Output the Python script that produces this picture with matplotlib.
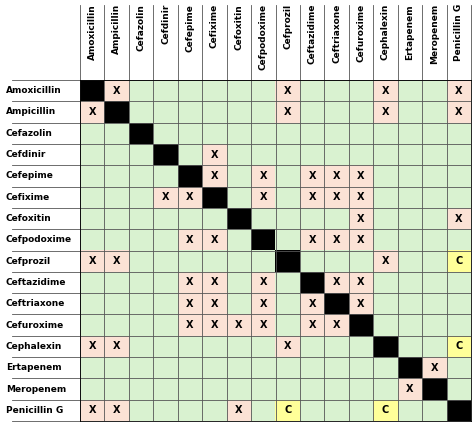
import matplotlib.pyplot as plt
import numpy as np
from matplotlib.colors import ListedColormap
from matplotlib.transforms import blended_transform_factory

drugs = ['Amoxicillin', 'Ampicillin', 'Cefazolin', 'Cefdinir', 'Cefepime', 'Cefixime',
         'Cefoxitin', 'Cefpodoxime', 'Cefprozil', 'Ceftazidime', 'Ceftriaxone',
         'Cefuroxime', 'Cephalexin', 'Ertapenem', 'Meropenem', 'Penicillin G']

# cross-reactivity marks per row: column name -> 'X' or 'C'
marks = {
    'Amoxicillin': {'Ampicillin': 'X', 'Cefprozil': 'X', 'Cephalexin': 'X', 'Penicillin G': 'X'},
    'Ampicillin': {'Amoxicillin': 'X', 'Cefprozil': 'X', 'Cephalexin': 'X', 'Penicillin G': 'X'},
    'Cefazolin': {},
    'Cefdinir': {'Cefixime': 'X'},
    'Cefepime': {'Cefixime': 'X', 'Cefpodoxime': 'X', 'Ceftazidime': 'X', 'Ceftriaxone': 'X', 'Cefuroxime': 'X'},
    'Cefixime': {'Cefdinir': 'X', 'Cefepime': 'X', 'Cefpodoxime': 'X', 'Ceftazidime': 'X', 'Ceftriaxone': 'X', 'Cefuroxime': 'X'},
    'Cefoxitin': {'Cefuroxime': 'X', 'Penicillin G': 'X'},
    'Cefpodoxime': {'Cefepime': 'X', 'Cefixime': 'X', 'Ceftazidime': 'X', 'Ceftriaxone': 'X', 'Cefuroxime': 'X'},
    'Cefprozil': {'Amoxicillin': 'X', 'Ampicillin': 'X', 'Cephalexin': 'X', 'Penicillin G': 'C'},
    'Ceftazidime': {'Cefepime': 'X', 'Cefixime': 'X', 'Cefpodoxime': 'X', 'Ceftriaxone': 'X', 'Cefuroxime': 'X'},
    'Ceftriaxone': {'Cefepime': 'X', 'Cefixime': 'X', 'Cefpodoxime': 'X', 'Ceftazidime': 'X', 'Cefuroxime': 'X'},
    'Cefuroxime': {'Cefepime': 'X', 'Cefixime': 'X', 'Cefoxitin': 'X', 'Cefpodoxime': 'X', 'Ceftazidime': 'X', 'Ceftriaxone': 'X'},
    'Cephalexin': {'Amoxicillin': 'X', 'Ampicillin': 'X', 'Cefprozil': 'X', 'Penicillin G': 'C'},
    'Ertapenem': {'Meropenem': 'X'},
    'Meropenem': {'Ertapenem': 'X'},
    'Penicillin G': {'Amoxicillin': 'X', 'Ampicillin': 'X', 'Cefoxitin': 'X', 'Cefprozil': 'C', 'Cephalexin': 'C'},
}

n = len(drugs)
grid = np.zeros((n, n))
for i, r in enumerate(drugs):
    for j, c in enumerate(drugs):
        if i == j:
            grid[i, j] = 3
        elif c in marks[r]:
            grid[i, j] = 1 if marks[r][c] == 'X' else 2

cmap = ListedColormap(['#d9f2d0', '#fbe2d5', '#ffff99', '#000000'])

fig = plt.figure(figsize=(4.74, 4.24), dpi=100)
ax = fig.add_axes([80/474, 3/424, 391/474, 341/424])
ax.imshow(grid, cmap=cmap, vmin=0, vmax=3, aspect='auto')

for i, r in enumerate(drugs):
    for j, c in enumerate(drugs):
        if c in marks[r]:
            ax.text(j, i, marks[r][c], ha='center', va='center', fontsize=7, fontweight='bold')

ax.set_xticks([])
ax.set_yticks([])
ax.set_xticks(np.arange(-0.5, n), minor=True)
ax.set_yticks(np.arange(-0.5, n), minor=True)
ax.grid(which='minor', color='#555555', linewidth=0.6)
ax.tick_params(which='minor', length=0)

# row labels at the left edge of the figure, column labels in the header band
row_tr = blended_transform_factory(fig.transFigure, ax.transData)
col_tr = blended_transform_factory(ax.transData, fig.transFigure)
for i, r in enumerate(drugs):
    ax.text(6/474, i, r, transform=row_tr, ha='left', va='center',
            fontsize=6.5, fontweight='bold')
    ax.text(i, 1 - 4/424, r, transform=col_tr, ha='center', va='top',
            rotation=90, fontsize=6.5, fontweight='bold')

# header cell borders outside the grid
for k in np.arange(-0.5, n):
    ax.plot([k, k], [-0.5, -4.0], color='#555555', lw=0.6, clip_on=False)
    ax.plot([-0.5, -3.3], [k, k], color='#555555', lw=0.6, clip_on=False)
ax.set_xlim(-0.5, n - 0.5)
ax.set_ylim(n - 0.5, -0.5)
for s in ax.spines.values():
    s.set_linewidth(0.6)

fig.savefig('out.png', dpi=100)
